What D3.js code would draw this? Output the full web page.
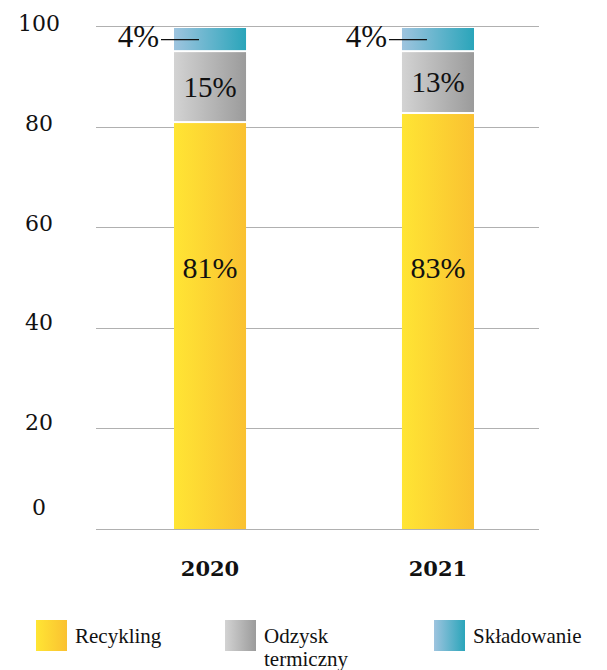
<!DOCTYPE html>
<html>
<head>
<meta charset="utf-8">
<script src="https://cdn.jsdelivr.net/npm/d3@7"></script>
<style>
  html, body { margin: 0; padding: 0; background: #fff; }
  svg { display: block; }
  text { fill: #111; }
</style>
</head>
<body>
<svg id="chart" width="607" height="670"></svg>
<script>
// ---- data ----
const years = ["2020", "2021"];
const recycling = [80.9, 82.7];
const thermal = [14.1, 12.3];
const landfill = [4.6, 4.6];
const recyclingLabels = ["81%", "83%"];
const thermalLabels = ["15%", "13%"];
const landfillLabels = ["4%", "4%"];
const yTicks = [0, 20, 40, 60, 80, 100];
const seriesNames = ["Recykling", "Odzysk termiczny", "Składowanie"];

// ---- setup ----
const svg = d3.select("#chart");
const serif = "'Liberation Serif', 'Times New Roman', serif";
const serif2 = "'DejaVu Serif', serif";

const y = d3.scaleLinear().domain([0, 100]).range([529, 26]);
const yLab = d3.scaleLinear().domain([0, 20, 100]).range([515, 430, 31]);
const x = d3.scaleBand().domain(years).range([174, 474]).paddingInner(0.684).paddingOuter(0);

// gradients
const defs = svg.append("defs");
const grads = [
  { id: "gY", c0: "#FFE534", c1: "#FAC131" },
  { id: "gG", c0: "#D3D3D3", c1: "#9B9B9B" },
  { id: "gB", c0: "#9EC4DF", c1: "#2AA5BA" }
];
grads.forEach(g => {
  const lg = defs.append("linearGradient").attr("id", g.id)
    .attr("x1", 0).attr("x2", 1).attr("y1", 0).attr("y2", 0);
  lg.append("stop").attr("offset", "0%").attr("stop-color", g.c0);
  lg.append("stop").attr("offset", "100%").attr("stop-color", g.c1);
});

// gridlines
svg.append("g").selectAll("line").data(yTicks).join("line")
  .attr("x1", 96).attr("x2", 539)
  .attr("y1", d => Math.round(y(d)) + 0.5).attr("y2", d => Math.round(y(d)) + 0.5)
  .attr("stroke", "#b0b0b0").attr("stroke-width", 1.2);

// y labels
svg.append("g").selectAll("text").data(yTicks).join("text")
  .attr("x", 39).attr("y", d => yLab(d))
  .attr("text-anchor", "middle")
  .style("font-family", serif2).style("font-size", "22px")
  .text(d => d);

// stacked segments
const stackData = years.map((yr, i) => ({
  year: yr,
  segs: [
    { lo: 0, hi: recycling[i], fill: "url(#gY)" },
    { lo: recycling[i], hi: recycling[i] + thermal[i], fill: "url(#gG)" },
    { lo: recycling[i] + thermal[i], hi: recycling[i] + thermal[i] + landfill[i], fill: "url(#gB)" }
  ]
}));

const barG = svg.append("g").selectAll("g").data(stackData).join("g");
barG.selectAll("rect").data(d => d.segs.map((s, k) => ({ ...s, k, year: d.year }))).join("rect")
  .attr("x", d => x(d.year))
  .attr("width", x.bandwidth())
  .attr("y", d => y(d.hi) + (d.k === 2 ? 0 : 1))
  .attr("height", d => (y(d.lo) - (d.k === 0 ? 0 : 1)) - (y(d.hi) + (d.k === 2 ? 0 : 1)))
  .attr("fill", d => d.fill);

// recycling labels
svg.append("g").selectAll("text").data(years).join("text")
  .attr("x", d => x(d) + x.bandwidth() / 2)
  .attr("y", y(52))
  .attr("dy", "0.35em")
  .attr("text-anchor", "middle")
  .style("font-family", serif).style("font-size", "30px")
  .text((d, i) => recyclingLabels[i]);

// thermal labels
svg.append("g").selectAll("text").data(years).join("text")
  .attr("x", d => x(d) + x.bandwidth() / 2)
  .attr("y", (d, i) => y(recycling[i] + thermal[i] / 2))
  .attr("dy", "0.35em")
  .attr("text-anchor", "middle")
  .style("font-family", serif).style("font-size", "29px")
  .text((d, i) => thermalLabels[i]);

// landfill labels with leader lines
const lfG = svg.append("g").selectAll("g").data(years).join("g");
lfG.append("line")
  .attr("x1", d => x(d) - 13)
  .attr("x2", d => x(d) + 25)
  .attr("y1", (d, i) => y(recycling[i] + thermal[i] + landfill[i] / 2))
  .attr("y2", (d, i) => y(recycling[i] + thermal[i] + landfill[i] / 2))
  .attr("stroke", "#111").attr("stroke-width", 1.3);
lfG.append("text")
  .attr("x", d => x(d) - 15)
  .attr("y", 47)
  .attr("text-anchor", "end")
  .style("font-family", serif).style("font-size", "31px")
  .text((d, i) => landfillLabels[i]);

// year labels
svg.append("g").selectAll("text").data(years).join("text")
  .attr("x", d => x(d) + x.bandwidth() / 2)
  .attr("y", 576)
  .attr("text-anchor", "middle")
  .style("font-family", serif2).style("font-size", "21px").style("font-weight", "bold")
  .text(d => d);

// legend
const legendX = [36, 225, 434];
const legendFill = ["url(#gY)", "url(#gG)", "url(#gB)"];
const lg = svg.append("g").selectAll("g").data(seriesNames).join("g")
  .attr("transform", (d, i) => `translate(${legendX[i]},620)`);
lg.append("rect").attr("width", 31).attr("height", 31).attr("fill", (d, i) => legendFill[i]);
lg.append("text")
  .attr("x", 39).attr("y", 23)
  .style("font-family", serif).style("font-size", "21px")
  .each(function (d) {
    const words = d.split(" ");
    const t = d3.select(this);
    words.forEach((w, j) => {
      t.append("tspan").attr("x", 39).attr("dy", j === 0 ? 0 : 23).text(w);
    });
  });
</script>
</body>
</html>
